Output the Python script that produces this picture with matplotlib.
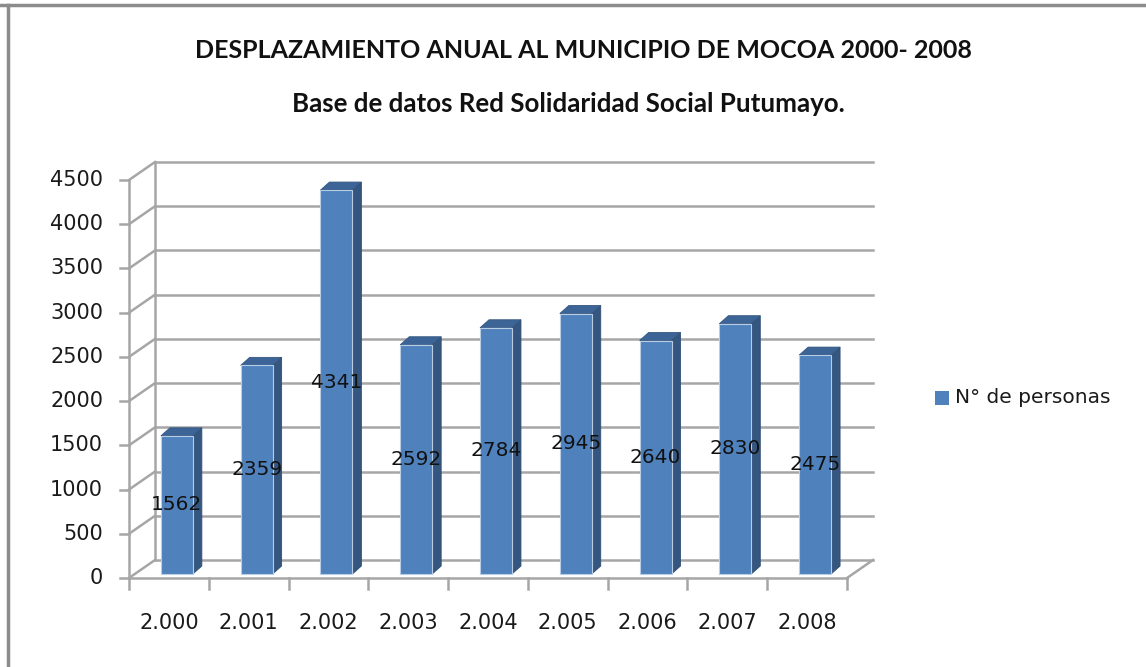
import numpy as np
import matplotlib
matplotlib.use('Agg')
import matplotlib.pyplot as plt
import matplotlib.transforms as mtransforms
from matplotlib.patches import Polygon, Rectangle
from matplotlib.lines import Line2D

# Data
years = ['2.000', '2.001', '2.002', '2.003', '2.004', '2.005', '2.006', '2.007', '2.008']
personas = [1562, 2359, 4341, 2592, 2784, 2945, 2640, 2830, 2475]
y_ticks = [0, 500, 1000, 1500, 2000, 2500, 3000, 3500, 4000, 4500]
title = 'DESPLAZAMIENTO ANUAL AL MUNICIPIO DE MOCOA 2000- 2008'
subtitle = 'Base de datos Red Solidaridad Social Putumayo.'
legend_label = 'N° de personas'

W, H = 1146, 667
fig = plt.figure(figsize=(W / 100, H / 100), dpi=100)

# plot area (front plane) in pixels
left, right, y0, y1 = 129, 847, 578, 180
ax = fig.add_axes([left / W, 1 - y0 / H, (right - left) / W, (y0 - y1) / H])
ax.set_xlim(-0.5, len(years) - 0.5)
ax.set_ylim(0, 4500)
ax.axis('off')

# pixel offsets for the 3D look (dpi 100 so px = inches*100)
def shifted(dx, dy):
    return mtransforms.offset_copy(ax.transData, fig=fig, x=dx / 100, y=dy / 100, units='inches')

def seg(p0, p1):
    fig.add_artist(Line2D([p0[0] / W, p1[0] / W], [p0[1] / H, p1[1] / H], color=grid_col, lw=lw,
                          transform=fig.transFigure))

back = shifted(26, 18)
grid_col = '#a6a6a6'
lw = 1.8
xl, xr = ax.get_xlim()

# back wall gridlines + left wall diagonals
for v in y_ticks:
    ax.add_line(Line2D([xl, xr], [v, v], transform=back, color=grid_col, lw=lw, clip_on=False))
    seg(ax.transData.transform((xl, v)), back.transform((xl, v)))
ax.add_line(Line2D([xl, xl], [0, 4500], transform=back, color=grid_col, lw=lw, clip_on=False))

# floor
ax.add_line(Line2D([xl, xr], [0, 0], color=grid_col, lw=lw, clip_on=False))
seg(ax.transData.transform((xr, 0)), back.transform((xr, 0)))

# front value axis with ticks
ax.add_line(Line2D([xl, xl], [0, 4500], color=grid_col, lw=lw, clip_on=False))
tick_l = shifted(-9, 0)
for v in y_ticks:
    seg(tick_l.transform((xl, v)), ax.transData.transform((xl, v)))
    ax.text(xl, v, str(v), transform=shifted(-26, 0), ha='right', va='center',
            fontsize=15, color='#1a1a1a', family='DejaVu Sans')

# category ticks
for i in range(len(years) + 1):
    pa = ax.transData.transform((xl + i, 0))
    seg(pa, (pa[0], pa[1] - 11))
for i, lab in enumerate(years):
    ax.text(i, 0, lab, transform=shifted(0, -45), ha='center', va='center',
            fontsize=15, color='#1a1a1a', family='DejaVu Sans')

# bars
bw = 0.40
front_t = shifted(8, 4)
side_t = shifted(17, 12)
c_front = '#4f81bd'
c_side = '#34567f'
c_top = '#3c6496'
for i, val in enumerate(personas):
    xa, xb = i - bw / 2, i + bw / 2
    pts_f = [front_t.transform(p) for p in [(xa, 0), (xb, 0), (xb, val), (xa, val)]]
    pts_b = [side_t.transform(p) for p in [(xa, 0), (xb, 0), (xb, val), (xa, val)]]
    side = [pts_f[1], pts_b[1], pts_b[2], pts_f[2]]
    top = [pts_f[3], pts_f[2], pts_b[2], pts_b[3]]
    fig.patches.append(Polygon(side, closed=True, facecolor=c_side, edgecolor='#2f4f77', lw=0.6,
                               transform=None, figure=fig))
    fig.patches.append(Polygon(top, closed=True, facecolor=c_top, edgecolor='#34567f', lw=0.6,
                               transform=None, figure=fig))
    fig.patches.append(Polygon(pts_f, closed=True, facecolor=c_front, edgecolor='#b9cde5', lw=0.8,
                               transform=None, figure=fig))
    fig.text(((pts_f[0][0] + pts_f[1][0]) / 2) / W, ((pts_f[0][1] + pts_f[2][1]) / 2) / H, str(val),
             ha='center', va='center', fontsize=14.5, color='#111111', family='DejaVu Sans', zorder=5)

# titles
fig.text(583 / W, 1 - 50 / H, title, ha='center', va='center', fontsize=18,
         fontweight='bold', family='Lato', color='#111111')
fig.text(568 / W, 1 - 104 / H, subtitle, ha='center', va='center', fontsize=18.6,
         fontweight='bold', family='Lato', color='#111111')

# legend
fig.patches.append(Rectangle((935 / W, 1 - 405 / H), 14 / W, 14 / H, transform=fig.transFigure,
                             facecolor=c_front, edgecolor='none', figure=fig))
fig.text(955 / W, 1 - 398 / H, legend_label, ha='left', va='center', fontsize=14.5,
         family='DejaVu Sans', color='#1a1a1a')

# outer frame (top and left)
fig.add_artist(Line2D([0, 1], [1 - 5 / H, 1 - 5 / H], color='#8c8c8c', lw=2.5, transform=fig.transFigure))
fig.add_artist(Line2D([7.5 / W, 7.5 / W], [0, 1 - 5 / H], color='#8c8c8c', lw=2.5, transform=fig.transFigure))

fig.savefig('out.png', dpi=100)
